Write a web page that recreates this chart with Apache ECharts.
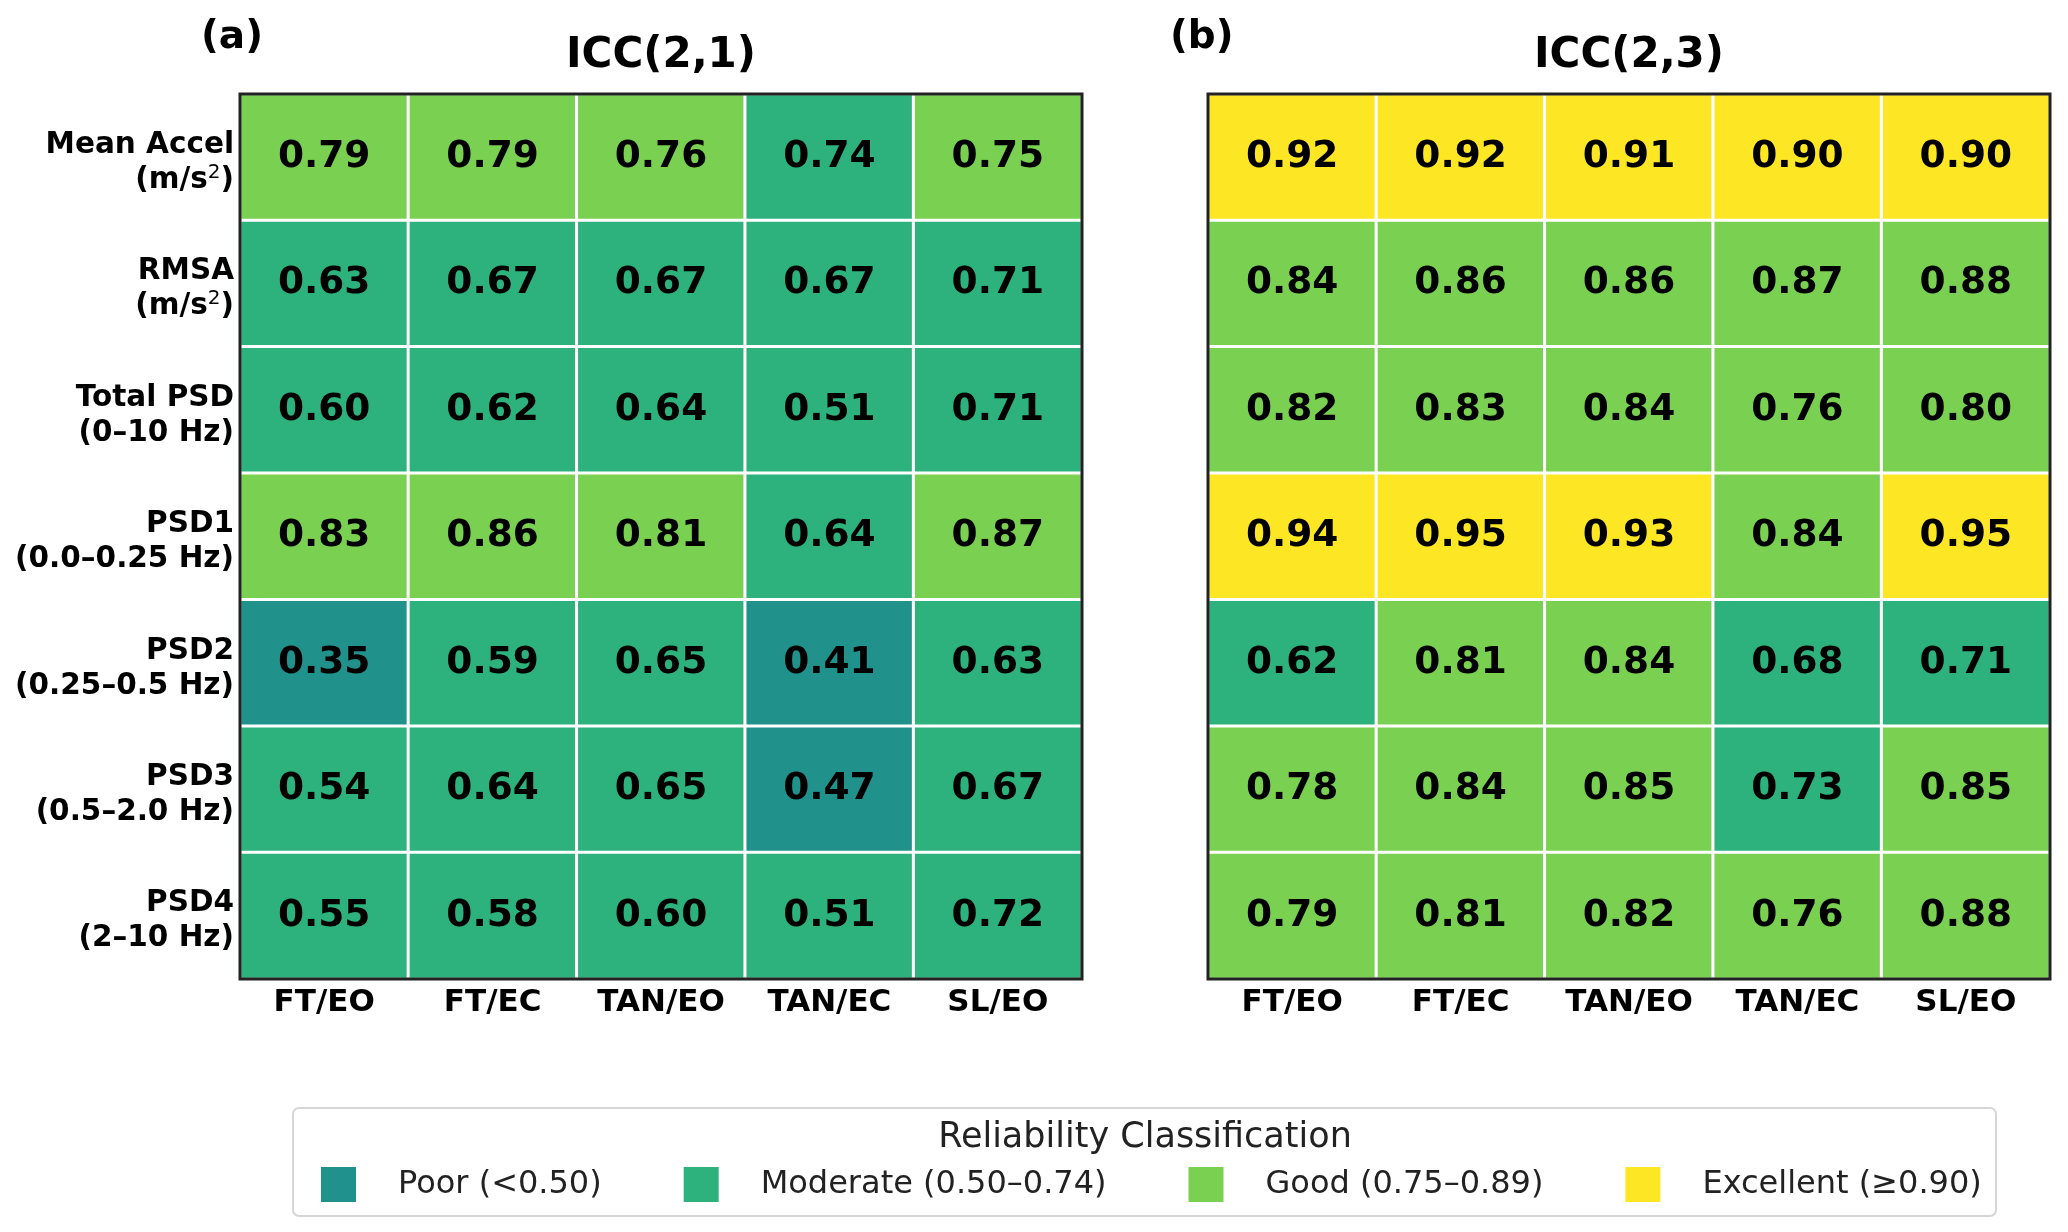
<!DOCTYPE html>
<html>
<head>
<meta charset="utf-8">
<script src="https://cdn.jsdelivr.net/npm/echarts@6/dist/echarts.min.js"></script>
<style>
  html, body { margin: 0; padding: 0; background: #fff; }
  #chartdiv { width: 2068px; height: 1232px; }
</style>
</head>
<body>
<div id="chartdiv"></div>
<script>
var conditions = ['FT/EO', 'FT/EC', 'TAN/EO', 'TAN/EC', 'SL/EO'];
var metrics = [
    '{b|Mean Accel}\n{b|(m/s}{sup|2}{b|)}',
    '{b|RMSA}\n{b|(m/s}{sup|2}{b|)}',
    '{b|Total PSD}\n{b|(0–10 Hz)}',
    '{b|PSD1}\n{b|(0.0–0.25 Hz)}',
    '{b|PSD2}\n{b|(0.25–0.5 Hz)}',
    '{b|PSD3}\n{b|(0.5–2.0 Hz)}',
    '{b|PSD4}\n{b|(2–10 Hz)}'
];

// ICC(2,1), one row per metric, one column per condition
var icc21 = [
    [0.79, 0.79, 0.76, 0.74, 0.75],
    [0.63, 0.67, 0.67, 0.67, 0.71],
    [0.60, 0.62, 0.64, 0.51, 0.71],
    [0.83, 0.86, 0.81, 0.64, 0.87],
    [0.35, 0.59, 0.65, 0.41, 0.63],
    [0.54, 0.64, 0.65, 0.47, 0.67],
    [0.55, 0.58, 0.60, 0.51, 0.72]
];

// ICC(2,3)
var icc23 = [
    [0.92, 0.92, 0.91, 0.90, 0.90],
    [0.84, 0.86, 0.86, 0.87, 0.88],
    [0.82, 0.83, 0.84, 0.76, 0.80],
    [0.94, 0.95, 0.93, 0.84, 0.95],
    [0.62, 0.81, 0.84, 0.68, 0.71],
    [0.78, 0.84, 0.85, 0.73, 0.85],
    [0.79, 0.81, 0.82, 0.76, 0.88]
];

var classes = [
    { lt: 0.50, label: 'Poor (<0.50)', color: '#21918c' },
    { gte: 0.50, lt: 0.75, label: 'Moderate (0.50–0.74)', color: '#2db27d' },
    { gte: 0.75, lt: 0.90, label: 'Good (0.75–0.89)', color: '#7ad151' },
    { gte: 0.90, label: 'Excellent (≥0.90)', color: '#fde725' }
];

function toCells(matrix) {
    var out = [];
    matrix.forEach(function(row, r) {
        row.forEach(function(v, c) {
            out.push([c, r, v]);
        });
    });
    return out;
}

var fontFamily = 'DejaVu Sans';

var labelRich = {
    b: { fontFamily: fontFamily, fontWeight: 'bold', fontSize: 29.5, color: '#000', lineHeight: 35 },
    sup: { fontFamily: fontFamily, fontWeight: 'normal', fontSize: 20, color: '#000', verticalAlign: 'top', lineHeight: 35 }
};

function makeX(gridIndex) {
    return {
        type: 'category',
        gridIndex: gridIndex,
        data: conditions,
        axisLine: { show: false },
        axisTick: { show: false },
        splitLine: { show: false },
        axisLabel: {
            interval: 0,
            hideOverlap: false,
            margin: 8,
            fontFamily: fontFamily,
            fontWeight: 'bold',
            fontSize: 31,
            color: '#000'
        }
    };
}

function makeY(gridIndex, showLabels) {
    return {
        type: 'category',
        gridIndex: gridIndex,
        data: metrics,
        inverse: true,
        axisLine: { show: false },
        axisTick: { show: false },
        splitLine: { show: false },
        axisLabel: {
            show: showLabels,
            interval: 0,
            margin: 6,
            align: 'right',
            padding: [11, 0, 0, 0],
            rich: labelRich
        }
    };
}

function makeSeries(name, matrix, idx) {
    return {
        name: name,
        type: 'heatmap',
        xAxisIndex: idx,
        yAxisIndex: idx,
        data: toCells(matrix),
        itemStyle: {
            borderColor: '#fff',
            borderWidth: 3
        },
        label: {
            show: true,
            fontFamily: fontFamily,
            fontWeight: 'bold',
            fontSize: 37.5,
            color: '#000',
            formatter: function(p) {
                return p.value[2].toFixed(2);
            }
        },
        emphasis: { disabled: true }
    };
}

var options = {
    animation: false,
    backgroundColor: '#fff',
    title: [
        { text: '(a)', left: 201, top: 18, padding: 0,
          textStyle: { fontFamily: fontFamily, fontWeight: 'bold', fontSize: 39, color: '#000' } },
        { text: 'ICC(2,1)', left: 661, top: 35, padding: 0, textAlign: 'center',
          textStyle: { fontFamily: fontFamily, fontWeight: 'bold', fontSize: 42, color: '#000' } },
        { text: '(b)', left: 1170, top: 18, padding: 0,
          textStyle: { fontFamily: fontFamily, fontWeight: 'bold', fontSize: 39, color: '#000' } },
        { text: 'ICC(2,3)', left: 1629, top: 35, padding: 0, textAlign: 'center',
          textStyle: { fontFamily: fontFamily, fontWeight: 'bold', fontSize: 42, color: '#000' } },
        { text: 'Reliability Classification', left: 1145, top: 1120, padding: 0, textAlign: 'center',
          textStyle: { fontFamily: fontFamily, fontWeight: 'normal', fontSize: 35, color: '#222' } }
    ],
    grid: [
        { left: 240, top: 94, width: 842, height: 885, show: true, z: 10,
          borderColor: '#222', borderWidth: 3, backgroundColor: 'transparent' },
        { left: 1208, top: 94, width: 842, height: 885, show: true, z: 10,
          borderColor: '#222', borderWidth: 3, backgroundColor: 'transparent' }
    ],
    xAxis: [ makeX(0), makeX(1) ],
    yAxis: [ makeY(0, true), makeY(1, false) ],
    visualMap: {
        type: 'piecewise',
        seriesIndex: [0, 1],
        orient: 'horizontal',
        left: 321,
        top: 1167,
        padding: 0,
        itemWidth: 35,
        itemHeight: 35,
        itemGap: 82,
        textGap: 42,
        itemSymbol: 'rect',
        hoverLink: false,
        selectedMode: false,
        pieces: classes,
        textStyle: {
            fontFamily: fontFamily,
            fontSize: 32,
            color: '#222'
        }
    },
    graphic: [
        {
            type: 'rect',
            z: -1,
            shape: { x: 293, y: 1108, width: 1703, height: 108, r: 6 },
            style: { fill: '#fff', stroke: '#d6d6d6', lineWidth: 2 }
        }
    ],
    series: [
        makeSeries('ICC(2,1)', icc21, 0),
        makeSeries('ICC(2,3)', icc23, 1)
    ]
};

var chartDom = document.getElementById('chartdiv');
var plot = echarts.init(chartDom);
plot.setOption(options);
</script>
</body>
</html>
